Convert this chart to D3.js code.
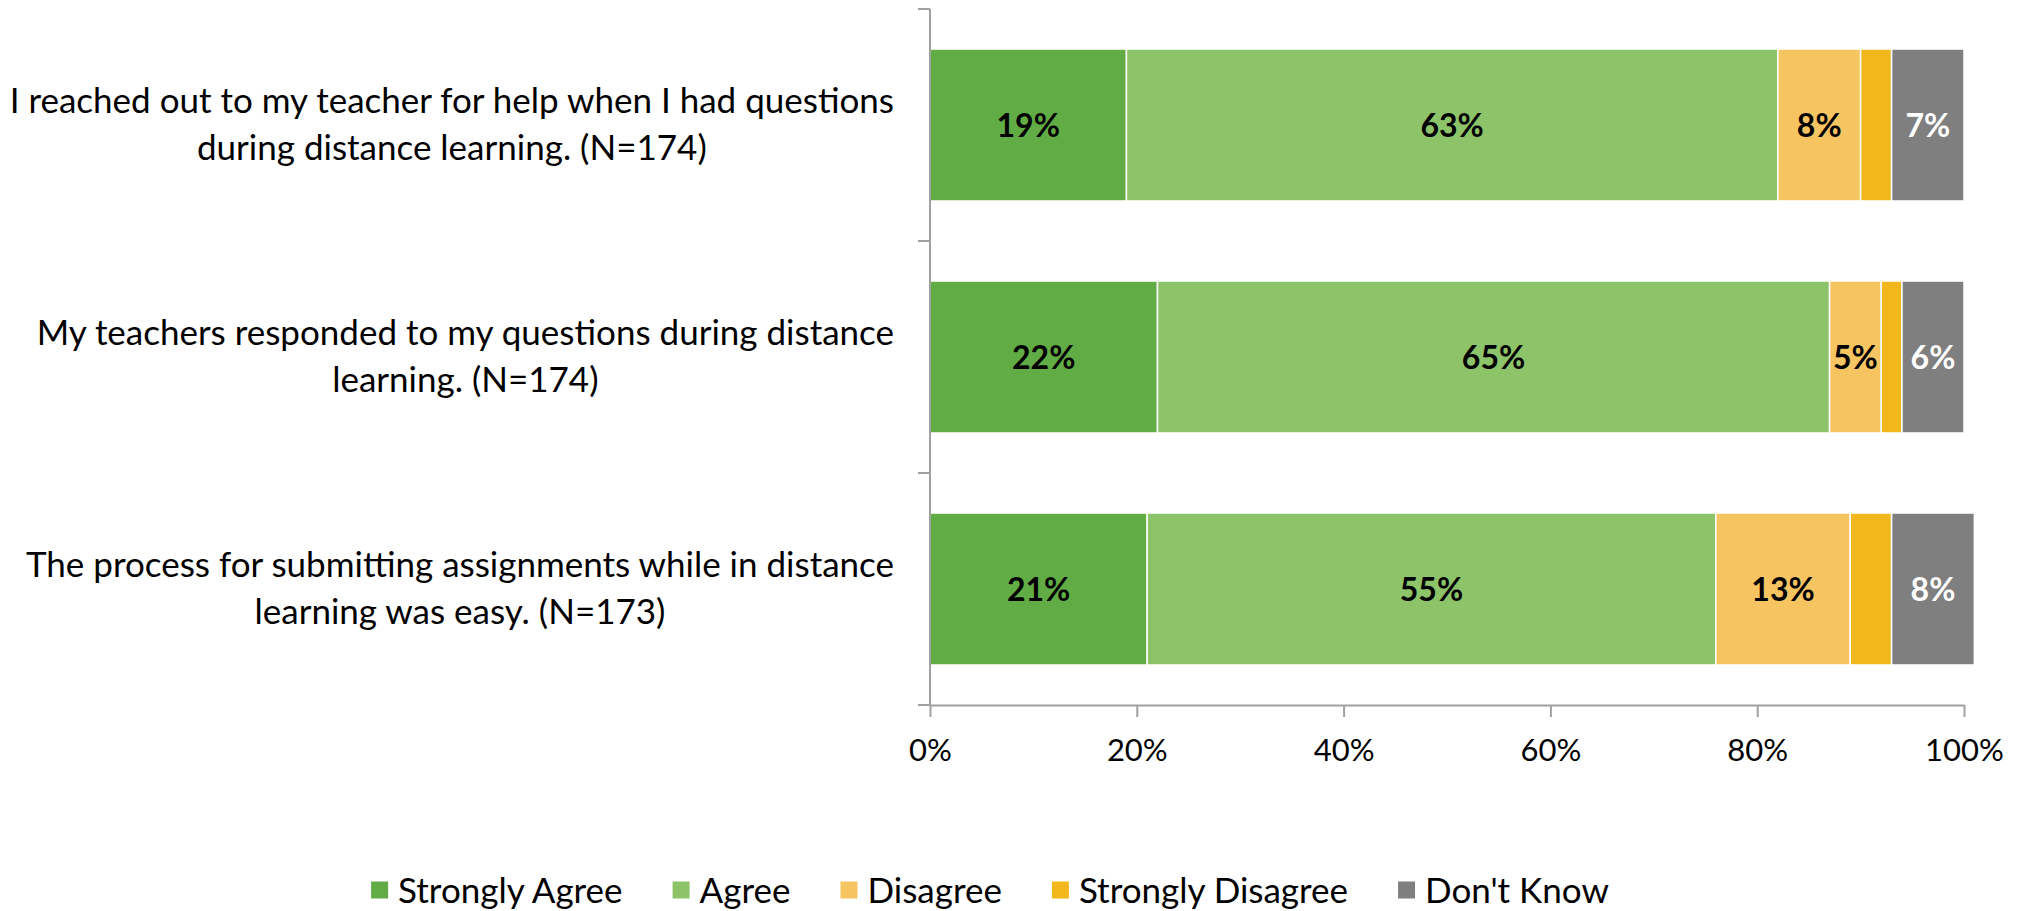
<!DOCTYPE html>
<html>
<head>
<meta charset="utf-8">
<script src="https://cdn.jsdelivr.net/npm/d3@7"></script>
<style>
	html, body { margin: 0; padding: 0; background: #fff; }
	svg { display: block; font-family: Lato, 'Open Sans', sans-serif; }
</style>
</head>
<body>
<div id="container"></div>
<script>
// chart values
var questions = [
	['I reached out to my teacher for help when I had questions', 'during distance learning. (N=174)'],
	['My teachers responded to my questions during distance', 'learning. (N=174)'],
	['The process for submitting assignments while in distance', 'learning was easy. (N=173)']
];
var responses = ['Strongly Agree', 'Agree', 'Disagree', 'Strongly Disagree', "Don't Know"];
var colors = ['#62ac46', '#8dc469', '#f6c562', '#f2b71d', '#7f7f7f'];
var stronglyAgree = [19, 22, 21];
var agree = [63, 65, 55];
var disagree = [8, 5, 13];
var stronglyDisagree = [3, 2, 4];
var dontKnow = [7, 6, 8];
var ticks = [0, 20, 40, 60, 80, 100];

var width = 2028, height = 911;
var margin = ({top: 9, right: 64, bottom: 206, left: 930});
var labelSize = 35;
var tickSize = 31;
var valueSize = 32;

var series = [stronglyAgree, agree, disagree, stronglyDisagree, dontKnow];

var svg = d3.select('div#container')
	.append('svg')
	.attr('width', width)
	.attr('height', height);

var x = d3.scaleLinear()
	.domain([0, 100])
	.range([margin.left, width - margin.right]);

var y = d3.scaleBand()
	.domain(d3.range(questions.length))
	.range([margin.top, height - margin.bottom])
	.paddingInner(0.345)
	.paddingOuter(0.1725);

// build stacked segments from the named arrays
var rows = questions.map(function(q, i) {
	var start = 0;
	return series.map(function(s, k) {
		var seg = {row: i, key: k, value: s[i], x0: start, x1: start + s[i]};
		start += s[i];
		return seg;
	});
});
var segments = rows.flat();

var bars = svg.append('g')
	.selectAll('rect')
	.data(segments)
	.join('rect')
	.attr('x', d => x(d.x0))
	.attr('y', d => y(d.row))
	.attr('width', d => x(d.x1) - x(d.x0))
	.attr('height', y.bandwidth())
	.attr('fill', d => colors[d.key])
	.attr('stroke', '#fff')
	.attr('stroke-width', 1.5);

// data labels (no label on the thin Strongly Disagree piece)
svg.append('g')
	.selectAll('text')
	.data(segments.filter(d => d.key != 3))
	.join('text')
	.attr('x', d => (x(d.x0) + x(d.x1)) / 2)
	.attr('y', d => y(d.row) + y.bandwidth() / 2)
	.attr('dy', '0.36em')
	.attr('text-anchor', 'middle')
	.attr('font-size', valueSize + 'px')
	.attr('font-weight', 'bold')
	.attr('fill', d => d.key == 4 ? '#fff' : '#000')
	.text(d => d.value + '%');

// x axis
var xAxis = d3.axisBottom(x)
	.tickValues(ticks)
	.tickFormat(d => d + '%')
	.tickSize(12)
	.tickPadding(22)
	.tickSizeOuter(0);

var gx = svg.append('g')
	.attr('transform', 'translate(0,' + (height - margin.bottom) + ')')
	.call(xAxis);
gx.select('.domain').attr('stroke', '#a0a0a0').attr('stroke-width', 2);
gx.selectAll('.tick line').attr('stroke', '#a0a0a0').attr('stroke-width', 2);
gx.selectAll('.tick text')
	.attr('font-size', tickSize + 'px')
	.attr('font-family', 'Lato, sans-serif')
	.attr('fill', '#000');

// y axis line with ticks between categories
var yAxisG = svg.append('g');
yAxisG.append('line')
	.attr('x1', margin.left)
	.attr('x2', margin.left)
	.attr('y1', margin.top)
	.attr('y2', height - margin.bottom)
	.attr('stroke', '#a0a0a0')
	.attr('stroke-width', 2);
var step = y.step();
yAxisG.selectAll('line.cat')
	.data(d3.range(questions.length + 1))
	.join('line')
	.attr('class', 'cat')
	.attr('x1', margin.left - 12)
	.attr('x2', margin.left)
	.attr('y1', d => margin.top + d * step)
	.attr('y2', d => margin.top + d * step)
	.attr('stroke', '#a0a0a0')
	.attr('stroke-width', 2);

// category labels, two centred lines, widest line ending near the axis
var labelRight = 894;
var labelG = svg.append('g');
var labels = labelG.selectAll('text')
	.data(questions)
	.join('text')
	.attr('text-anchor', 'middle')
	.attr('font-size', labelSize + 'px')
	.attr('fill', '#000');
labels.each(function(lines, i) {
	var t = d3.select(this);
	var cy = y(i) + y.bandwidth() / 2;
	lines.forEach(function(line, j) {
		t.append('tspan')
			.attr('y', cy - 12 + j * 47)
			.text(line);
	});
	var widest = d3.max(t.selectAll('tspan').nodes(), n => n.getComputedTextLength());
	t.selectAll('tspan').attr('x', labelRight - widest / 2);
});

// legend, centred under the chart
var legendG = svg.append('g');
var legendY = 890;
var box = 17;
var items = legendG.selectAll('g')
	.data(responses)
	.join('g');
items.append('rect')
	.attr('width', box)
	.attr('height', box)
	.attr('y', legendY - box / 2)
	.attr('fill', (d, i) => colors[i]);
items.append('text')
	.attr('x', box + 10)
	.attr('y', legendY)
	.attr('dy', '0.36em')
	.attr('font-size', labelSize + 'px')
	.attr('fill', '#000')
	.text(d => d);
var cursor = 0;
items.each(function() {
	var g = d3.select(this);
	g.attr('transform', 'translate(' + cursor + ',0)');
	cursor += box + 10 + g.select('text').node().getComputedTextLength() + 50;
});
var legendWidth = cursor - 50;
legendG.attr('transform', 'translate(' + (990 - legendWidth / 2) + ',0)');
</script>
</body>
</html>
